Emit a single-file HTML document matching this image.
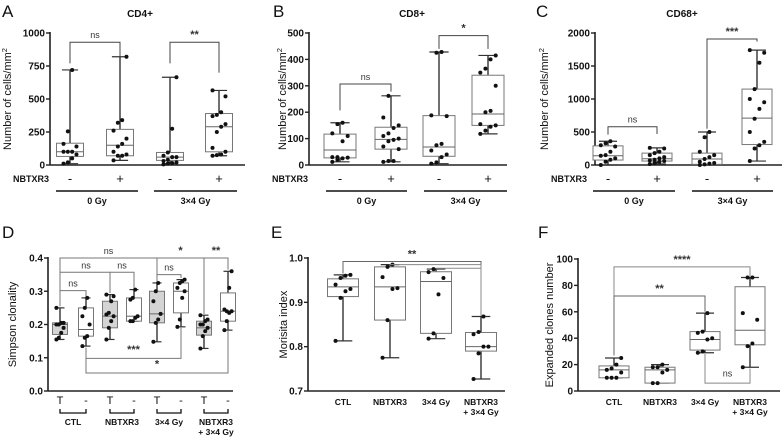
<!DOCTYPE html>
<html><head><meta charset="utf-8">
<style>
html,body{margin:0;padding:0;background:#fff;}
svg{display:block;font-family:"Liberation Sans",sans-serif;}
</style></head>
<body>
<svg id="fig" width="784" height="440" viewBox="0 0 784 440" xmlns="http://www.w3.org/2000/svg"></svg>
<script>
// ---------- Panel A data (CD4+) ----------
const aCats=["-","+","-","+"];
const aMin=[10,35,10,70], aQ1=[65,70,35,100], aMed=[100,150,60,290], aQ3=[165,270,95,390], aMax=[720,820,665,565];
const aPts=[[10,20,50,80,100,100,100,140,160,255,720],[35,70,70,80,100,140,160,200,260,320,340,820],[5,10,15,20,30,40,60,60,70,95,275,665],[70,75,80,100,130,250,290,310,370,380,400,520,565]];
const aTicks=[0,250,500,750,1000];
// ---------- Panel B data (CD8+) ----------
const bMin=[12,12,5,118], bQ1=[27,60,33,150], bMed=[57,97,68,193], bQ3=[117,143,187,340], bMax=[160,262,428,415];
const bPts=[[12,20,25,28,30,30,90,110,120,155,160],[12,15,15,60,70,90,95,100,110,120,140,150,180,262],[5,10,30,40,55,75,80,185,188,425,428],[118,130,145,150,155,200,205,300,350,365,400,415]];
const bTicks=[0,100,200,300,400,500];
// ---------- Panel C data (CD68+) ----------
const cMin=[0,15,0,60], cQ1=[75,60,10,310], cMed=[140,95,90,710], cQ3=[290,180,180,1150], cMax=[360,260,500,1740];
const cPts=[[0,50,80,100,140,150,200,280,300,330,360],[15,30,50,60,70,80,100,120,150,180,200,250,260],[0,10,20,30,50,90,120,150,200,420,500],[60,250,300,350,500,700,850,950,1000,1150,1550,1700,1740]];
const cTicks=[0,500,1000,1500,2000];
// ---------- Panel D data (Simpson clonality) ----------
const dCats=["T","-","T","-","T","-","T","-"];
const dMin=[.155,.135,.155,.21,.148,.193,.128,.183], dQ1=[.17,.165,.19,.21,.205,.235,.168,.21], dMed=[.2,.185,.225,.225,.232,.30,.19,.24], dQ3=[.205,.25,.27,.28,.30,.325,.21,.295], dMax=[.25,.28,.29,.305,.325,.335,.228,.36];
const dPts=[[.155,.16,.175,.19,.2,.2,.205,.205,.25],[.135,.16,.165,.2,.225,.25,.28],[.155,.19,.21,.225,.23,.235,.27,.285,.29],[.21,.21,.22,.225,.275,.28,.305],[.148,.205,.215,.232,.27,.30,.325],[.193,.215,.28,.30,.31,.325,.33,.335],[.128,.165,.18,.19,.2,.2,.21,.215,.228],[.183,.21,.235,.24,.245,.24,.31,.36]];
const dTicks=[0.0,0.1,0.2,0.3,0.4];
// ---------- Panel E data (Morisita) ----------
const eCats=["CTL","NBTXR3","3×4 Gy","NBTXR3|+ 3×4 Gy"];
const eMin=[.813,.775,.818,.727], eQ1=[.913,.86,.83,.79], eMed=[.935,.935,.947,.80], eQ3=[.953,.98,.969,.832], eMax=[.962,.985,.975,.868];
const ePts=[[.813,.91,.925,.93,.94,.955,.96,.962],[.775,.86,.93,.932,.957,.98,.985],[.818,.83,.918,.955,.968,.975],[.727,.785,.8,.8,.828,.833,.868]];
const eTicks=[0.7,0.8,0.9,1.0];
// ---------- Panel F data (Expanded clones) ----------
const fMin=[10,6,29,18], fQ1=[10,6,31,35], fMed=[16,16,39,46], fQ3=[19,18,45,79], fMax=[25,20,59,86];
const fPts=[[10,10,10,14,16,17,20,25],[6,6,14,16,18,18,20],[29,30,39,40,44,45,59],[18,34,36,54,59,86,86]];
const fTicks=[0,20,40,60,80,100];

const NS="http://www.w3.org/2000/svg";
const svg=document.getElementById('fig');
function el(tag,attrs,parent){const e=document.createElementNS(NS,tag);for(const k in attrs)e.setAttribute(k,attrs[k]);(parent||svg).appendChild(e);return e;}
function txt(s,x,y,size,opts,parent){const t=el('text',Object.assign({x:x,y:y,'font-size':size,'text-anchor':'middle',fill:'#111'},opts||{}),parent);t.textContent=s;return t;}

function panel(p){
  const g=el('g',{});
  
  
  const lo=p.dom[0],hi=p.dom[1];
  const y=v=>p.yBot-(v-lo)/(hi-lo)*(p.yBot-p.yTop);
  const L=txt(p.letter,p.lx,p.ly,17,{'text-anchor':'start','font-weight':'normal'},g);
  
  if(p.title){const T=txt(p.title,p.tx,17,10,{'font-weight':'bold'},g);}
  const ax=el('g',{},g);
  el('line',{x1:p.ax,y1:p.yTop-1,x2:p.ax,y2:p.yBot,stroke:'#222','stroke-width':1.6},ax);
  el('line',{x1:p.ax,y1:p.yBot,x2:p.xEnd,y2:p.yBot,stroke:'#222','stroke-width':1.6},ax);
  p.ticks.forEach(t=>{
    el('line',{x1:p.ax-4,y1:y(t),x2:p.ax,y2:y(t),stroke:'#222','stroke-width':1.4},ax);
    const s=p.fmt?p.fmt(t):String(t);
    const tl=txt(s,p.ax-5,y(t)+3.5,10,{'text-anchor':'end','font-weight':'bold'},ax);
    
  });
  const yt=txt('',p.ytx,(p.yTop+p.yBot)/2,11,{transform:`rotate(-90 ${p.ytx} ${(p.yTop+p.yBot)/2})`},g);
  
  yt.textContent=p.ytitle; if(p.sup){const ts=el('tspan',{dy:-4,'font-size':7.5},yt);ts.textContent=p.sup;}
  p.cx.forEach((cx,i)=>{
    const b=el('g',{},g);
    const w=p.bw/2;
    el('line',{x1:cx,y1:y(p.max[i]),x2:cx,y2:y(p.q3[i]),stroke:'#222','stroke-width':1.3},b);
    el('line',{x1:cx,y1:y(p.q1[i]),x2:cx,y2:y(p.min[i]),stroke:'#222','stroke-width':1.3},b);
    el('line',{x1:cx-w*0.6,y1:y(p.max[i]),x2:cx+w*0.6,y2:y(p.max[i]),stroke:'#333','stroke-width':1.2},b);
    el('line',{x1:cx-w*0.6,y1:y(p.min[i]),x2:cx+w*0.6,y2:y(p.min[i]),stroke:'#333','stroke-width':1.2},b);
    el('rect',{x:cx-w,y:y(p.q3[i]),width:p.bw,height:y(p.q1[i])-y(p.q3[i]),fill:(p.gray&&p.gray[i])?'#d4d4d4':'#fff',stroke:'#777','stroke-width':1},b);
    el('line',{x1:cx-w,y1:y(p.med[i]),x2:cx+w,y2:y(p.med[i]),stroke:'#666','stroke-width':1},b);
    p.pts[i].forEach((v,j)=>{
      const off=((j%4)-1.5)*p.bw*0.16;
      const c=el('circle',{cx:cx+off,cy:y(v),r:2,fill:'#111'},b);
      
    });
  });
  (p.br||[]).forEach(br=>{
    const bg=el('g',{},g);
    const x1=p.cx[br[0]],x2=p.cx[br[1]],yy=y(br[2]);
    el('polyline',{points:`${x1},${y(br[3])} ${x1},${yy} ${x2},${yy} ${x2},${y(br[4])}`,fill:'none',stroke:br[6]||'#444','stroke-width':1},bg);
    const star=br[5]!=='ns';
    txt(br[5],br[7]!==undefined?br[7]:(x1+x2)/2,br[8]!==undefined?y(br[8]):(yy-4),star?11:9,{'font-weight':star?'bold':'normal',fill:'#333'},bg);
  });
  return {g,y};
}

function nbLegend(p,g,cats){
  const lg=el('g',{},g);
  txt('NBTXR3',p.nbx,182,9,{'font-weight':'bold','text-anchor':'end'},lg);
  p.cx.forEach((cx,i)=>txt(cats[i],cx,183,13,{},lg));
  p.grp.forEach((gr,i)=>{
    el('line',{x1:gr[0],y1:191,x2:gr[1],y2:191,stroke:'#111','stroke-width':1.5},lg);
    txt(i?'3×4 Gy':'0 Gy',(gr[0]+gr[1])/2,204,9,{'font-weight':'bold'},lg);
  });
}

let pA={name:'panel-a-cd4',letter:'A',lx:2,ly:17,title:'CD4+',tx:140,ax:50,xEnd:245,yTop:33,yBot:165,dom:[0,1000],ticks:aTicks,ytx:11,ytitle:'Number of cells/mm',sup:'2',
 cx:[70,120,170,219],bw:27,min:aMin,q1:aQ1,med:aMed,q3:aQ3,max:aMax,pts:aPts,nbx:49,grp:[[56,138],[154,237]],
 br:[[0,1,930,770,820,'ns'],[2,3,930,770,700,'**']]};
let rA=panel(pA);nbLegend(pA,rA.g,aCats);
let pB={name:'panel-b-cd8',letter:'B',lx:273,ly:17,title:'CD8+',tx:412,ax:309,xEnd:507,yTop:33,yBot:165,dom:[0,500],ticks:bTicks,ytx:286,ytitle:'Number of cells/mm',sup:'2',
 cx:[340,391,439,488],bw:32,min:bMin,q1:bQ1,med:bMed,q3:bQ3,max:bMax,pts:bPts,nbx:308,grp:[[326,407],[424,507]],
 br:[[0,1,307,207,278,'ns'],[2,3,490,440,440,'*']]};
let rB=panel(pB);nbLegend(pB,rB.g,aCats);
let pC={name:'panel-c-cd68',letter:'C',lx:536,ly:17,title:'CD68+',tx:682,ax:595,xEnd:782,yTop:33,yBot:165,dom:[0,2000],ticks:cTicks,ytx:548,ytitle:'Number of cells/mm',sup:'2',
 cx:[608,657,707,757],bw:30,min:cMin,q1:cQ1,med:cMed,q3:cQ3,max:cMax,pts:cPts,nbx:587,grp:[[593,675],[692,773]],
 br:[[0,1,580,460,470,'ns'],[2,3,1910,550,1870,'***']]};
let rC=panel(pC);nbLegend(pC,rC.g,aCats);

let pD={name:'panel-d-simpson',letter:'D',lx:2,ly:238,ax:48,xEnd:233,yTop:258,yBot:391,dom:[0,0.4],ticks:dTicks,ytx:16,ytitle:'Simpson clonality',fmt:t=>t.toFixed(1),
 cx:[60,86,110,134,157,181,204,228],bw:15,min:dMin,q1:dQ1,med:dMed,q3:dQ3,max:dMax,pts:dPts,gray:[1,0,1,0,1,0,1,0],
 br:[[0,1,.302,.255,.285,'ns','#777'],[0,2,.357,.302,.295,'ns','#777',86],[2,3,.357,.295,.31,'ns','#777'],[4,5,.35,.33,.34,'ns','#777'],
     [0,4,.4,.357,.33,'ns','#777'],[4,6,.4,.33,.232,'*','#777'],[6,7,.4,.232,.365,'**','#777'],
     [1,5,.098,.13,.19,'***','#777',undefined,.115],[1,7,.054,.13,.18,'*','#777',undefined,.07]]};
let rD=panel(pD);
{const lg=el('g',{},rD.g);
 pD.cx.forEach((cx,i)=>txt(dCats[i],cx,404,11,{},lg));
 const gl=['CTL','NBTXR3','3×4 Gy','NBTXR3'];
 for(let k=0;k<4;k++){const a=pD.cx[2*k],b=pD.cx[2*k+1];
  el('polyline',{points:`${a},409 ${a},413 ${b},413 ${b},409`,fill:'none',stroke:'#111','stroke-width':1.3},lg);
  txt(gl[k],(a+b)/2,425,8.5,{'font-weight':'bold'},lg);}
 txt('+ 3×4 Gy',(pD.cx[6]+pD.cx[7])/2,435,8.5,{'font-weight':'bold'},lg);}

function catLabels(p,g){
  const lg=el('g',{},g);
  p.cx.forEach((cx,i)=>{const parts=eCats[i].split('|');parts.forEach((s,k)=>txt(s,cx,405+k*10,8.5,{'font-weight':'bold'},lg));});
}
let pE={name:'panel-e-morisita',letter:'E',lx:271,ly:238,ax:308,xEnd:505,yTop:258,yBot:391,dom:[0.7,1.0],ticks:eTicks,ytx:287,ytitle:'Morisita index',fmt:t=>t.toFixed(1),
 cx:[343,390,436,481],bw:31,min:eMin,q1:eQ1,med:eMed,q3:eQ3,max:eMax,pts:ePts,
 br:[[0,3,.992,.965,.87,'**','#666'],[1,3,.985,.986,.87,'','#888'],[2,3,.977,.976,.87,'','#888']]};
let rE=panel(pE);catLabels(pE,rE.g);
let pF={name:'panel-f-expanded-clones',letter:'F',lx:538,ly:238,ax:578,xEnd:780,yTop:259,yBot:391,dom:[0,100],ticks:fTicks,ytx:553,ytitle:'Expanded clones number',
 cx:[614,660,705,750],bw:30,min:fMin,q1:fQ1,med:fMed,q3:fQ3,max:fMax,pts:fPts,
 br:[[0,3,94,27,87,'****','#888'],[0,2,72,27,60,'**','#666'],[2,3,6,28,17,'ns','#888',undefined,11]]};
let rF=panel(pF);catLabels(pF,rF.g);
</script>
</body></html>
